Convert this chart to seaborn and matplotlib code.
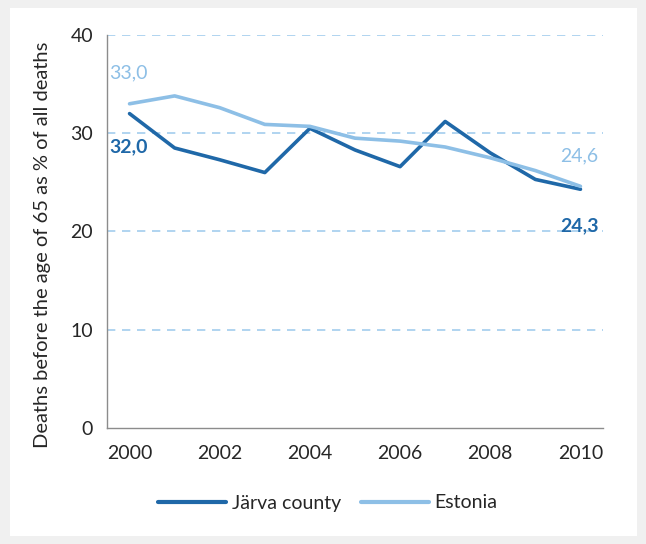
import pandas as pd
import matplotlib.pyplot as plt
import seaborn as sns
from matplotlib.patches import Rectangle

# data
years = list(range(2000, 2011))
jarva = [32.0, 28.5, 27.3, 26.0, 30.5, 28.3, 26.6, 31.2, 28.0, 25.3, 24.3]
estonia = [33.0, 33.8, 32.6, 30.9, 30.7, 29.5, 29.2, 28.6, 27.5, 26.2, 24.6]
series = ['Järva county', 'Estonia']

df = pd.DataFrame({
    'year': years * 2,
    'value': jarva + estonia,
    'region': [series[0]] * len(years) + [series[1]] * len(years),
})

dark = '#1f68a8'
light = '#8dbfe6'
grid_col = '#a3cdee'
axis_col = '#8c8c8c'
text_col = '#262626'

sns.set_style('white')
plt.rcParams['font.family'] = ['Lato', 'DejaVu Sans']

fig = plt.figure(figsize=(6.46, 5.44), dpi=100)
fig.patch.set_facecolor('#f0f0f0')
fig.patches.append(Rectangle((10 / 646, 8 / 544), 627 / 646, 528 / 544,
                             transform=fig.transFigure, facecolor='white',
                             edgecolor='none', zorder=-10))

ax = fig.add_axes([107 / 646, 1 - 428 / 544, 496 / 646, 393 / 544])
ax.set_facecolor('none')

sns.lineplot(data=df, x='year', y='value', hue='region',
             palette={series[0]: dark, series[1]: light},
             linewidth=2.6, ax=ax, legend=False)

ax.set_xlim(1999.5, 2010.5)
ax.set_ylim(0, 40)

# gridlines
for yv in [10, 20, 30, 40]:
    ax.axhline(yv, color=grid_col, linestyle=(0, (5, 4)), linewidth=1.2, zorder=0)

# ticks
ax.set_xticks([y + 0.5 for y in range(1999, 2011)], minor=True)
ax.set_xticks(years[::2])
ax.set_xticklabels([str(y) for y in years[::2]])
ax.tick_params(axis='x', which='major', length=0, pad=12, labelsize=14, labelcolor=text_col)
ax.tick_params(axis='x', which='minor', length=6, width=1, color=axis_col, direction='out')
ax.set_yticks([0, 10, 20, 30, 40])
ax.tick_params(axis='y', length=8, width=1, color=axis_col, direction='inout',
               pad=6, labelsize=14, labelcolor=text_col)

for side in ['top', 'right']:
    ax.spines[side].set_visible(False)
for side in ['left', 'bottom']:
    ax.spines[side].set_color(axis_col)
    ax.spines[side].set_linewidth(1)

ax.set_xlabel('')
ax.set_ylabel('Deaths before the age of 65 as % of all deaths', fontsize=14.5,
              color=text_col)
ax.yaxis.set_label_coords(-0.112, 0.465)

# end labels
def lab(x, y, dy, color, bold):
    ax.annotate(f'{y:.1f}'.replace('.', ','), (x, y), xytext=(-1, dy),
                textcoords='offset points', ha='center', va='center',
                fontsize=14, color=color, fontweight='bold' if bold else 'normal')

lab(years[0], estonia[0], 22, light, False)
lab(years[0], jarva[0], -24, dark, True)
lab(years[-1], estonia[-1], 22, light, False)
lab(years[-1], jarva[-1], -26, dark, True)

# legend
handles = [plt.Line2D([], [], color=dark, linewidth=3),
           plt.Line2D([], [], color=light, linewidth=3)]
fig.legend(handles, series, loc='center', bbox_to_anchor=(328 / 646, 1 - 503 / 544),
           ncol=2, frameon=False, fontsize=14, handlelength=3.5, handletextpad=0.3,
           columnspacing=1.0, labelcolor=text_col)

fig.savefig('out.png', dpi=100, facecolor=fig.get_facecolor())
